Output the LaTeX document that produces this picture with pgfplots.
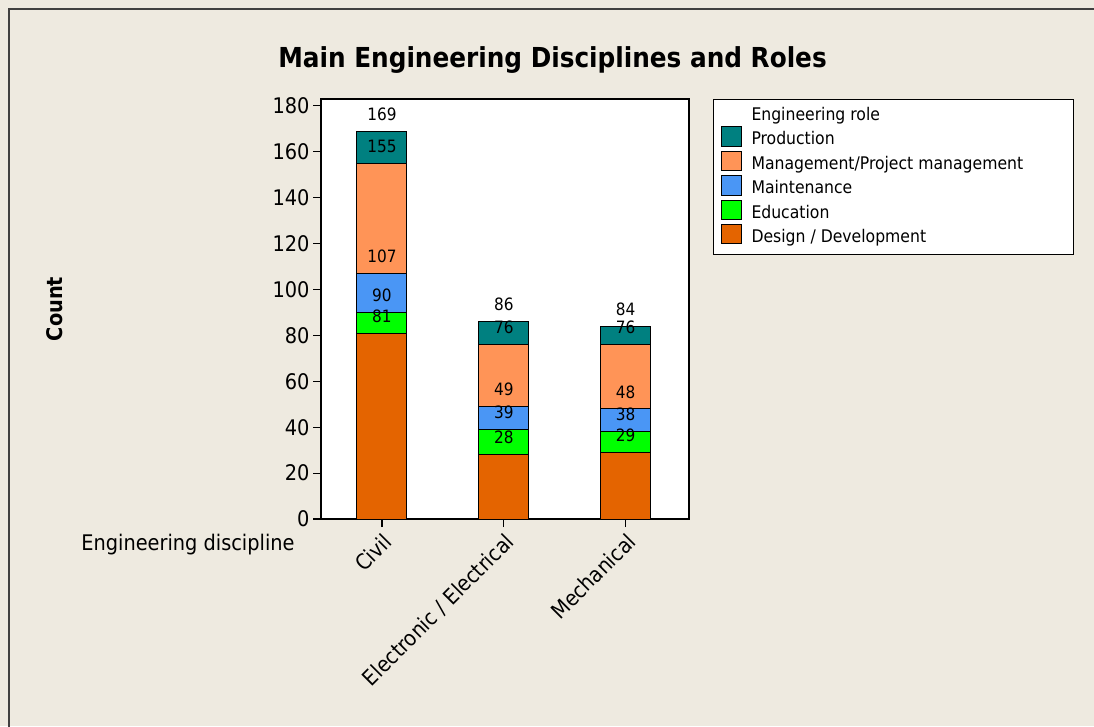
\documentclass[border=0pt]{standalone}
\usepackage{fontspec}
\setmainfont{DejaVu Sans Condensed}
\usepackage{pgfplots}
\usepackage{pgfplotstable}
\pgfplotsset{compat=1.18}
\definecolor{bgc}{RGB}{238,234,224}
\definecolor{cprod}{RGB}{0,128,128}
\definecolor{cman}{RGB}{255,148,87}
\definecolor{cmaint}{RGB}{74,150,245}
\definecolor{cedu}{RGB}{0,255,0}
\definecolor{cdes}{RGB}{228,100,0}

% cumulative tops of each stacked segment
\pgfplotstableread{
x prod man maint edu des
1 169 155 107 90 81
2 86 76 49 39 28
3 84 76 48 38 29
}\data

\begin{document}
\begin{tikzpicture}
\fill[bgc] (0pt,0pt) rectangle (1094pt,726pt);
\useasboundingbox (0pt,0pt) rectangle (1094pt,726pt);
\draw[black!75, line width=1.2pt] (9pt,-5pt) -- (9pt,717pt) -- (1100pt,717pt);
\node[font=\fontsize{27.5}{33}\selectfont\bfseries] at (552.5pt,666pt) {Main Engineering Disciplines and Roles};
\node[rotate=90, font=\fontsize{21.5}{26}\selectfont\bfseries] at (55pt,417pt) {Count};
\node[font=\fontsize{21.5}{26}\selectfont] at (188pt,181pt) {Engineering discipline};
\coordinate (AX) at (321pt,207pt);
\begin{axis}[
  at={(AX)}, anchor=south west,
  width=368pt, height=420pt, scale only axis,
  xmin=0.5, xmax=3.52, ymin=0, ymax=183,
  axis background/.style={fill=white},
  axis line style={line width=1.3pt},
  ytick={0,20,...,180},
  xtick={1,2,3},
  xticklabels={Civil, Electronic / Electrical, Mechanical},
  tick align=outside, tick pos=left,
  major tick length=8pt,
  every tick/.style={black, line width=1.2pt},
  tick label style={font=\fontsize{21.5}{26}\selectfont},
  /pgf/number format/assume math mode=true,
  xticklabel style={rotate=45, anchor=north east},
  ybar, bar width=50pt,
  nodes near coords,
  every node near coord/.append style={font=\fontsize{17}{20}\selectfont, anchor=center, yshift=17pt, text=black},
  legend style={at={(1.0652,1)}, anchor=north west, draw=black, line width=1pt, fill=white,
     font=\fontsize{17.4}{20}\selectfont, inner xsep=7pt, inner ysep=8pt, row sep=1.9pt, column sep=10pt,
     nodes={inner sep=0pt, text height=13pt, text depth=4pt}},
  legend cell align=left,
  legend image code/.code={\draw[#1, draw=black, line width=1pt] (0pt,-6pt) rectangle (20pt,13.5pt);},
]
\addlegendimage{empty legend}\addlegendentry{\makebox[315pt][l]{Engineering role}}
\addplot[fill=cprod, draw=black, line width=1pt, bar shift=0pt] table[x=x,y=prod]{\data};
\addlegendentry{Production}
\addplot[fill=cman, draw=black, line width=1pt, bar shift=0pt] table[x=x,y=man]{\data};
\addlegendentry{Management/Project management}
\addplot[fill=cmaint, draw=black, line width=1pt, bar shift=0pt] table[x=x,y=maint]{\data};
\addlegendentry{Maintenance}
\addplot[fill=cedu, draw=black, line width=1pt, bar shift=0pt] table[x=x,y=edu]{\data};
\addlegendentry{Education}
\addplot[fill=cdes, draw=black, line width=1pt, bar shift=0pt] table[x=x,y=des]{\data};
\addlegendentry{Design / Development}
\end{axis}
\end{tikzpicture}
\end{document}
